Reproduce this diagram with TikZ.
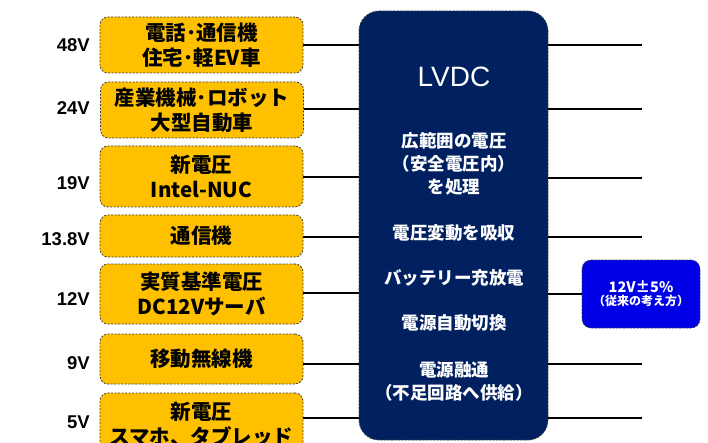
\documentclass[tikz,border=0pt]{standalone}
\usepackage{fontspec}
\setmainfont{Noto Sans CJK JP}
\newfontfamily\lat{Liberation Sans}
\definecolor{boxor}{HTML}{FFC000}
\definecolor{navy}{HTML}{002060}
\definecolor{bluebox}{HTML}{0000E6}
\definecolor{dashc}{HTML}{404040}
\begin{document}
\begin{tikzpicture}[x=1pt,y=-1pt,
  dev/.style={draw=dashc,fill=boxor,line width=0.8pt,dash pattern=on 2pt off 1.5pt,
    rounded corners=8pt,minimum width=203pt,inner sep=0pt,align=center,
    font=\bfseries\fontsize{20.5}{25}\selectfont},
  volt/.style={anchor=east,inner sep=0pt,font=\lat\bfseries\fontsize{18.5}{20}\selectfont},
  conn/.style={line width=2pt,black},
  ctext/.style={text=white,align=center,inner sep=0pt,font=\bfseries\fontsize{17.5}{23}\selectfont}]
\useasboundingbox (0,0) rectangle (708,443);
\clip (0,0) rectangle (708,443);
\fill[white] (0,0) rectangle (708,443);
% LVDC central box
\node[draw=dashc,fill=navy,line width=0.8pt,dash pattern=on 2pt off 1.5pt,rounded corners=20pt,
  minimum width=189pt,minimum height=429pt,inner sep=0pt] (lvdc) at (453.5,225.5) {};
% device boxes
\node[dev,minimum height=56pt] (b1) at (201.5,45) {電話･通信機\\住宅･軽EV車};
\node[dev,minimum height=56pt] (b2) at (202,110) {産業機械･ロボット\\大型自動車};
\node[dev,minimum height=61pt] (b3) at (201.5,176.5) {新電圧\\Intel-NUC};
\node[dev,minimum height=42pt] (b4) at (201.5,236) {通信機};
\node[dev,minimum height=60pt] (b5) at (201.5,294) {実質基準電圧\\DC12Vサーバ};
\node[dev,minimum height=50pt] (b6) at (201.5,359) {移動無線機};
\node[dev,minimum height=62pt] (b7) at (201.5,424) {新電圧\\スマホ、タブレッド};
% voltage labels
\node[volt] (v1) at (90,45) {48V};
\node[volt] (v2) at (90,108) {24V};
\node[volt] (v3) at (90,183) {19V};
\node[volt] (v4) at (90,239) {13.8V};
\node[volt] (v5) at (90,299) {12V};
\node[volt] (v6) at (90,363) {9V};
\node[volt] (v7) at (90,422) {5V};
% blue box
\node[draw=dashc,fill=bluebox,line width=0.8pt,dash pattern=on 2pt off 1.5pt,rounded corners=9pt,
  minimum width=118pt,minimum height=68pt,inner sep=0pt,text=white,align=center] (std) at (641,294)
  {{\bfseries\fontsize{14.5}{15}\selectfont 12V±5\%}\\[1pt]{\bfseries\fontsize{12}{13}\selectfont （従来の考え方）}};
% LVDC texts
\node[text=white,inner sep=0pt,font=\lat\fontsize{28}{30}\selectfont] (title) at (454,77) {LVDC};
\node[ctext] (t1) at (454,164) {広範囲の電圧\\（安全電圧内）\\を処理};
\node[ctext] (t2) at (454,233) {電圧変動を吸収};
\node[ctext] (t3) at (454,278) {バッテリー充放電};
\node[ctext] (t4) at (454,323) {電源自動切換};
\node[ctext] (t5) at (454,381) {電源融通\\（不足回路へ供給）};
% connectors left
\draw[conn] (b1.east |- 0,45) -- (lvdc.west |- 0,45);
\draw[conn] (b2.east |- 0,109) -- (lvdc.west |- 0,109);
\draw[conn] (b3.east |- 0,177) -- (lvdc.west |- 0,177);
\draw[conn] (b4.east |- 0,237) -- (lvdc.west |- 0,237);
\draw[conn] (b5.east |- 0,293) -- (lvdc.west |- 0,293);
\draw[conn] (b6.east |- 0,364) -- (lvdc.west |- 0,364);
\draw[conn] (b7.east |- 0,418) -- (lvdc.west |- 0,418);
% connectors right
\coordinate (r1) at (642,45);
\coordinate (r2) at (642,109);
\coordinate (r3) at (642,178);
\coordinate (r4) at (642,237);
\coordinate (r6) at (642,364);
\coordinate (r7) at (642,418);
\draw[conn] (lvdc.east |- r1) -- (r1);
\draw[conn] (lvdc.east |- r2) -- (r2);
\draw[conn] (lvdc.east |- r3) -- (r3);
\draw[conn] (lvdc.east |- r4) -- (r4);
\draw[conn] (lvdc.east |- std.west) -- (std.west);
\draw[conn] (lvdc.east |- r6) -- (r6);
\draw[conn] (lvdc.east |- r7) -- (r7);
\end{tikzpicture}
\end{document}
